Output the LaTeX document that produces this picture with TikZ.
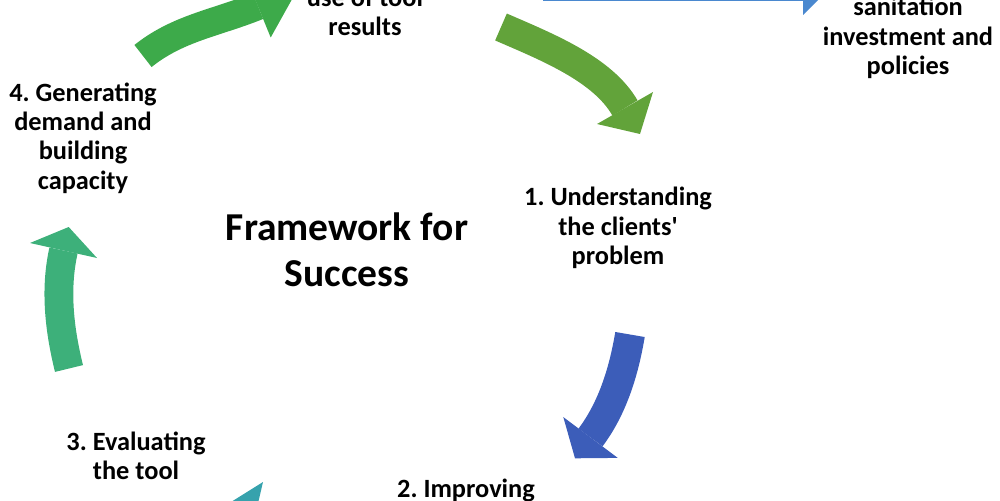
\documentclass[tikz,border=0pt]{standalone}
\usepackage{fontspec}
\setmainfont{Carlito}
\frenchspacing
\definecolor{gA}{HTML}{3DAA4A}
\definecolor{gB}{HTML}{62A33A}
\definecolor{bA}{HTML}{3C5DB9}
\definecolor{gC}{HTML}{3DB07A}
\definecolor{tA}{HTML}{36A2AD}
\definecolor{bL}{HTML}{4A88CF}
\begin{document}
\begin{tikzpicture}[x=0.02cm,y=-0.02cm,
  lbl/.style={font=\fontsize{15}{16.7}\selectfont\bfseries, align=center, inner sep=0pt},
  ttl/.style={font=\fontsize{22.5}{26}\selectfont\bfseries, align=center, inner sep=0pt}]
\useasboundingbox (0,0) rectangle (1000,500);
\clip (0,0) rectangle (1000,500);
% arrow 1 (top)
\draw[gA, line width=15.9pt] (143,56) .. controls (178,28) and (216,23) .. (258,6);
\fill[gA] (245,-25.5) -- (297,-9.7) -- (270.7,37.5) -- cycle;
% arrow 2 (right green)
\draw[gB, line width=16.7pt] (501,27) .. controls (547,47) and (602.5,69) .. (625,108);
\fill[gB] (597,124) -- (640,134) -- (653,92) -- cycle;
% arrow 3 (blue)
\draw[bA, line width=17pt] (630,334.5) .. controls (623.4,374) and (611.5,409.5) .. (590.5,437.5);
\fill[bA] (563.3,417.1) -- (575,458.3) -- (617.7,457.9) -- cycle;
% arrow 4 (left)
\draw[gC, line width=16.4pt] (69,368.5) .. controls (59.4,329.7) and (54.8,289.5) .. (63.5,250.5);
\fill[gC] (30,243) -- (68.7,227) -- (97,258) -- cycle;
% arrow 5 (bottom teal, mostly out of view)
\fill[tA] (263,482) -- (215,512) -- (256,512) -- cycle;
% blue line arrow at top right
\fill[bL] (543,-3) rectangle (803,1.5);
\fill[bL] (803,-21) -- (821,-3) -- (803,15) -- cycle;
% labels
\node[lbl] (s5) at (365,12) {use of tool\\results};
\node[lbl] (s6) at (908,38) {sanitation\\investment and\\policies};
\node[lbl] (s4) at (83,138) {4. Generating\\demand and\\building\\capacity};
\node[ttl] (fw) at (347,250) {Framework for\\Success};
\node[lbl] (s1) at (618,228) {1. Understanding\\the clients\textquotesingle\\problem};
\node[lbl] (s3) at (136,456) {3. Evaluating\\the tool};
\node[lbl] (s2) at (466,490) {2. Improving};
\end{tikzpicture}
\end{document}
